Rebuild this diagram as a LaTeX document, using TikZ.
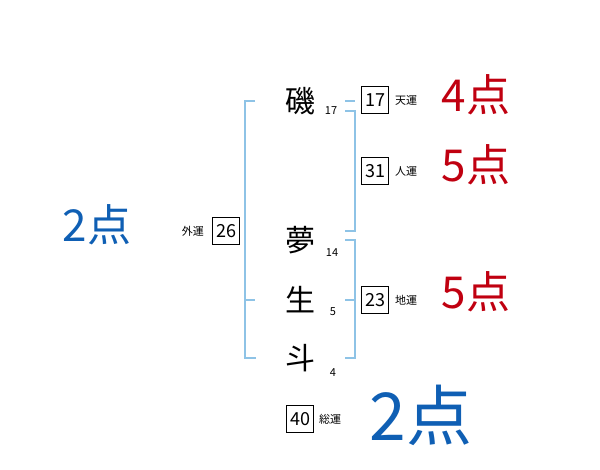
\documentclass[tikz,border=0pt]{standalone}
\usepackage{fontspec}
\setmainfont{Noto Sans CJK JP}
\definecolor{bracketblue}{HTML}{8EC3E6}
\definecolor{scorered}{HTML}{C00010}
\definecolor{scoreblue}{HTML}{0F5FB4}
\tikzset{
    kanji/.style={font=\fontsize{30}{30}\selectfont, inner sep=0pt},
    strokes/.style={font=\fontsize{11}{11}\selectfont, inner sep=0pt},
    unbox/.style={draw, line width=0.8pt, minimum size=27pt, inner sep=0pt, font=\fontsize{18}{18}\selectfont},
    unlabel/.style={font=\fontsize{11}{11}\selectfont, inner sep=0pt},
    score/.style={font=\fontsize{44}{44}\selectfont, inner sep=0pt},
    bracket/.style={draw=bracketblue, line width=1.5pt}
}

\begin{document}
\begin{tikzpicture}[x=1pt, y=-1pt]
    \useasboundingbox (0,0) rectangle (600,470);
    % name
    \node[kanji] (iso)  at (300,101) {磯};
    \node[kanji] (yume) at (300,240) {夢};
    \node[kanji] (sei)  at (300,300) {生};
    \node[kanji] (to)   at (300,358) {斗};
    \node[strokes] (iso-n)  at (331,111) {17};
    \node[strokes] (yume-n) at (332,253) {14};
    \node[strokes] (sei-n)  at (333,312) {5};
    \node[strokes] (to-n)   at (333,373) {4};
    % brackets
    \draw[bracket] (255,101) -- (245,101) -- (245,358) -- (256,358);
    \draw[bracket] (245,300) -- (255,300);
    \draw[bracket] (345,101) -- (355,101);
    \draw[bracket] (345,111) -- (355,111) -- (355,231) -- (345,231);
    \draw[bracket] (345,240) -- (355,240) -- (355,358) -- (345,358);
    \draw[bracket] (345,300) -- (355,300);
    % fortunes
    \node[unbox] (ten)   at (375,100) {17};
    \node[unbox] (jin)   at (375,171) {31};
    \node[unbox] (chi)   at (375,300) {23};
    \node[unbox] (gai)   at (226,231) {26};
    \node[unbox] (sou)   at (300,419) {40};
    \node[unlabel, anchor=west] (ten-l) at ([xshift=6pt]ten.east) {天運};
    \node[unlabel, anchor=west] (jin-l) at ([xshift=6pt]jin.east) {人運};
    \node[unlabel, anchor=west] (chi-l) at ([xshift=6pt]chi.east) {地運};
    \node[unlabel, anchor=east] (gai-l) at ([xshift=-8pt]gai.west) {外運};
    \node[unlabel, anchor=west] (sou-l) at ([xshift=5pt]sou.east) {総運};
    % points
    \node[score, scorered]  (ten-s) at (476,95)  {4点};
    \node[score, scorered]  (jin-s) at (476,165) {5点};
    \node[score, scorered]  (chi-s) at (476,292) {5点};
    \node[score, scoreblue] (gai-s) at (97,225)  {2点};
    \node[score, scoreblue, font=\fontsize{66}{66}\selectfont] (sou-s) at (421,415) {2点};
\end{tikzpicture}
\end{document}
